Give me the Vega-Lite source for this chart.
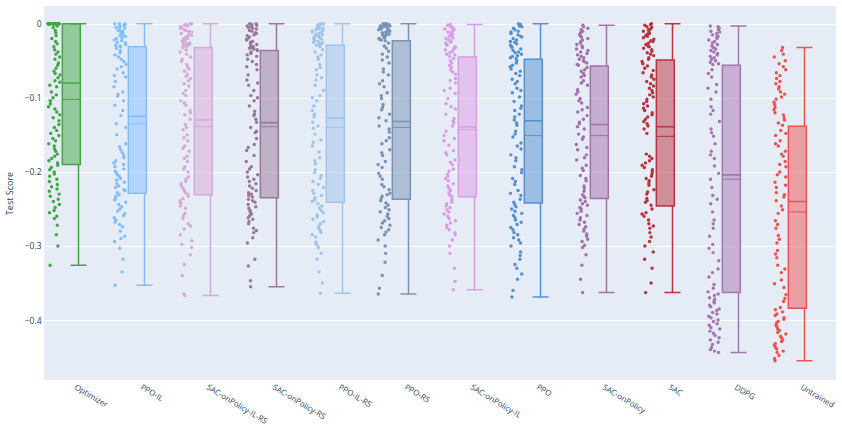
{
"$schema":"https://vega.github.io/schema/vega-lite/v6.json",
"width":792,"height":374,
"autosize":{"type":"none"},
"padding":{"left":44,"top":6,"right":6,"bottom":47},
"background":"white",
"config":{"view":{"fill":"#e5ecf6","stroke":null},"font":"Open Sans",
"axisY":{"grid":true,"gridColor":"white","gridWidth":1,"domain":false,"ticks":false,"labelColor":"#2a3f5f","labelFontSize":8.5,"labelPadding":3,"titleColor":"#2a3f5f","titleFontSize":9,"titleFontWeight":"normal","titlePadding":10},
"axisX":{"grid":false,"domain":false,"ticks":false,"labelColor":"#2a3f5f","labelFontSize":8,"labelAngle":31,"labelAlign":"left","labelBaseline":"top","labelPadding":3,"labelOverlap":false,"labelBound":false}},
"datasets":{
"stats":[
{"m":"Optimizer","hi":0,"q3":0,"med":-0.080,"mean":-0.102,"q1":-0.190,"lo":-0.326},
{"m":"PPO-IL","hi":0,"q3":-0.031,"med":-0.125,"mean":-0.135,"q1":-0.229,"lo":-0.353},
{"m":"SAC-onPolicy-IL-RS","hi":0,"q3":-0.032,"med":-0.130,"mean":-0.139,"q1":-0.231,"lo":-0.367},
{"m":"SAC-onPolicy-RS","hi":0,"q3":-0.036,"med":-0.1335,"mean":-0.139,"q1":-0.235,"lo":-0.355},
{"m":"PPO-IL-RS","hi":0,"q3":-0.029,"med":-0.127,"mean":-0.140,"q1":-0.241,"lo":-0.364},
{"m":"PPO-RS","hi":0,"q3":-0.023,"med":-0.132,"mean":-0.140,"q1":-0.237,"lo":-0.365},
{"m":"SAC-onPolicy-IL","hi":-0.001,"q3":-0.045,"med":-0.139,"mean":-0.143,"q1":-0.2335,"lo":-0.359},
{"m":"PPO","hi":0,"q3":-0.048,"med":-0.131,"mean":-0.151,"q1":-0.242,"lo":-0.369},
{"m":"SAC-onPolicy","hi":-0.002,"q3":-0.057,"med":-0.136,"mean":-0.151,"q1":-0.236,"lo":-0.363},
{"m":"SAC","hi":0,"q3":-0.049,"med":-0.139,"mean":-0.152,"q1":-0.246,"lo":-0.363},
{"m":"DDPG","hi":-0.003,"q3":-0.056,"med":-0.204,"mean":-0.210,"q1":-0.363,"lo":-0.444},
{"m":"Untrained","hi":-0.032,"q3":-0.1385,"med":-0.240,"mean":-0.254,"q1":-0.384,"lo":-0.455}
],
"pts":[
{"m":"Optimizer","s":0},{"m":"Optimizer","s":0},{"m":"Optimizer","s":0},{"m":"Optimizer","s":0},{"m":"Optimizer","s":0},{"m":"Optimizer","s":0},{"m":"Optimizer","s":0},{"m":"Optimizer","s":0},{"m":"Optimizer","s":0},{"m":"Optimizer","s":0},{"m":"Optimizer","s":0},{"m":"Optimizer","s":0},{"m":"Optimizer","s":0},{"m":"Optimizer","s":0},{"m":"Optimizer","s":0},{"m":"Optimizer","s":0},
{"m":"Optimizer","s":-0.005},{"m":"Optimizer","s":-0.012},{"m":"Optimizer","s":-0.02},{"m":"Optimizer","s":-0.027},{"m":"Optimizer","s":-0.035},{"m":"Optimizer","s":-0.041},{"m":"Optimizer","s":-0.048},{"m":"Optimizer","s":-0.053},{"m":"Optimizer","s":-0.06},{"m":"Optimizer","s":-0.064},{"m":"Optimizer","s":-0.069},{"m":"Optimizer","s":-0.073},{"m":"Optimizer","s":-0.077},{"m":"Optimizer","s":-0.079},
{"m":"Optimizer","s":-0.085},{"m":"Optimizer","s":-0.092},{"m":"Optimizer","s":-0.1},{"m":"Optimizer","s":-0.108},{"m":"Optimizer","s":-0.115},{"m":"Optimizer","s":-0.123},{"m":"Optimizer","s":-0.131},{"m":"Optimizer","s":-0.14},{"m":"Optimizer","s":-0.148},{"m":"Optimizer","s":-0.155},{"m":"Optimizer","s":-0.162},{"m":"Optimizer","s":-0.169},{"m":"Optimizer","s":-0.176},{"m":"Optimizer","s":-0.182},{"m":"Optimizer","s":-0.188},
{"m":"Optimizer","s":-0.194},{"m":"Optimizer","s":-0.2},{"m":"Optimizer","s":-0.206},{"m":"Optimizer","s":-0.213},{"m":"Optimizer","s":-0.22},{"m":"Optimizer","s":-0.226},{"m":"Optimizer","s":-0.233},{"m":"Optimizer","s":-0.24},{"m":"Optimizer","s":-0.248},{"m":"Optimizer","s":-0.255},{"m":"Optimizer","s":-0.263},{"m":"Optimizer","s":-0.272},{"m":"Optimizer","s":-0.285},{"m":"Optimizer","s":-0.3},{"m":"Optimizer","s":-0.326},
{"m":"Optimizer","s":0},{"m":"Optimizer","s":0},{"m":"Optimizer","s":0},{"m":"Optimizer","s":0},{"m":"Optimizer","s":0},{"m":"Optimizer","s":0},{"m":"Optimizer","s":-0.003},{"m":"Optimizer","s":-0.009},{"m":"Optimizer","s":-0.016},{"m":"Optimizer","s":-0.024},{"m":"Optimizer","s":-0.031},{"m":"Optimizer","s":-0.038},{"m":"Optimizer","s":-0.045},{"m":"Optimizer","s":-0.056},{"m":"Optimizer","s":-0.067},{"m":"Optimizer","s":-0.083},{"m":"Optimizer","s":-0.096},{"m":"Optimizer","s":-0.104},{"m":"Optimizer","s":-0.112},{"m":"Optimizer","s":-0.119},{"m":"Optimizer","s":-0.127},{"m":"Optimizer","s":-0.136},{"m":"Optimizer","s":-0.144},{"m":"Optimizer","s":-0.151},{"m":"Optimizer","s":-0.158},{"m":"Optimizer","s":-0.165},{"m":"Optimizer","s":-0.172},{"m":"Optimizer","s":-0.179},{"m":"Optimizer","s":-0.185},{"m":"Optimizer","s":-0.191},{"m":"Optimizer","s":-0.197},{"m":"Optimizer","s":-0.203},{"m":"Optimizer","s":-0.21},{"m":"Optimizer","s":-0.217},{"m":"Optimizer","s":-0.223},{"m":"Optimizer","s":-0.23},{"m":"Optimizer","s":-0.237},{"m":"Optimizer","s":-0.244},{"m":"Optimizer","s":-0.252},{"m":"Optimizer","s":-0.26},
{"m":"PPO-IL","s":0},{"m":"PPO-IL","s":0},{"m":"PPO-IL","s":-0.002},{"m":"PPO-IL","s":-0.004},{"m":"PPO-IL","s":-0.006},{"m":"PPO-IL","s":-0.009},{"m":"PPO-IL","s":-0.011},{"m":"PPO-IL","s":-0.014},{"m":"PPO-IL","s":-0.017},{"m":"PPO-IL","s":-0.02},{"m":"PPO-IL","s":-0.023},{"m":"PPO-IL","s":-0.026},{"m":"PPO-IL","s":-0.028},{"m":"PPO-IL","s":-0.03},{"m":"PPO-IL","s":-0.031},
{"m":"PPO-IL","s":-0.036},{"m":"PPO-IL","s":-0.042},{"m":"PPO-IL","s":-0.048},{"m":"PPO-IL","s":-0.055},{"m":"PPO-IL","s":-0.061},{"m":"PPO-IL","s":-0.066},{"m":"PPO-IL","s":-0.072},{"m":"PPO-IL","s":-0.078},{"m":"PPO-IL","s":-0.085},{"m":"PPO-IL","s":-0.092},{"m":"PPO-IL","s":-0.098},{"m":"PPO-IL","s":-0.104},{"m":"PPO-IL","s":-0.11},{"m":"PPO-IL","s":-0.117},{"m":"PPO-IL","s":-0.124},
{"m":"PPO-IL","s":-0.135},{"m":"PPO-IL","s":-0.15},{"m":"PPO-IL","s":-0.162},{"m":"PPO-IL","s":-0.17},{"m":"PPO-IL","s":-0.178},{"m":"PPO-IL","s":-0.185},{"m":"PPO-IL","s":-0.19},{"m":"PPO-IL","s":-0.196},{"m":"PPO-IL","s":-0.201},{"m":"PPO-IL","s":-0.206},{"m":"PPO-IL","s":-0.211},{"m":"PPO-IL","s":-0.216},{"m":"PPO-IL","s":-0.221},{"m":"PPO-IL","s":-0.225},{"m":"PPO-IL","s":-0.228},
{"m":"PPO-IL","s":-0.233},{"m":"PPO-IL","s":-0.238},{"m":"PPO-IL","s":-0.244},{"m":"PPO-IL","s":-0.25},{"m":"PPO-IL","s":-0.256},{"m":"PPO-IL","s":-0.262},{"m":"PPO-IL","s":-0.268},{"m":"PPO-IL","s":-0.274},{"m":"PPO-IL","s":-0.28},{"m":"PPO-IL","s":-0.287},{"m":"PPO-IL","s":-0.294},{"m":"PPO-IL","s":-0.303},{"m":"PPO-IL","s":-0.318},{"m":"PPO-IL","s":-0.335},{"m":"PPO-IL","s":-0.353},
{"m":"PPO-IL","s":0},{"m":"PPO-IL","s":-0.001},{"m":"PPO-IL","s":-0.003},{"m":"PPO-IL","s":-0.005},{"m":"PPO-IL","s":-0.008},{"m":"PPO-IL","s":-0.01},{"m":"PPO-IL","s":-0.013},{"m":"PPO-IL","s":-0.016},{"m":"PPO-IL","s":-0.019},{"m":"PPO-IL","s":-0.022},{"m":"PPO-IL","s":-0.025},{"m":"PPO-IL","s":-0.029},{"m":"PPO-IL","s":-0.033},{"m":"PPO-IL","s":-0.039},{"m":"PPO-IL","s":-0.045},{"m":"PPO-IL","s":-0.051},{"m":"PPO-IL","s":-0.058},{"m":"PPO-IL","s":-0.07},{"m":"PPO-IL","s":-0.095},{"m":"PPO-IL","s":-0.14},{"m":"PPO-IL","s":-0.166},{"m":"PPO-IL","s":-0.174},{"m":"PPO-IL","s":-0.181},{"m":"PPO-IL","s":-0.188},{"m":"PPO-IL","s":-0.193},{"m":"PPO-IL","s":-0.199},{"m":"PPO-IL","s":-0.204},{"m":"PPO-IL","s":-0.209},{"m":"PPO-IL","s":-0.214},{"m":"PPO-IL","s":-0.219},{"m":"PPO-IL","s":-0.224},{"m":"PPO-IL","s":-0.231},{"m":"PPO-IL","s":-0.236},{"m":"PPO-IL","s":-0.241},{"m":"PPO-IL","s":-0.247},{"m":"PPO-IL","s":-0.253},{"m":"PPO-IL","s":-0.259},{"m":"PPO-IL","s":-0.265},{"m":"PPO-IL","s":-0.271},{"m":"PPO-IL","s":-0.29},
{"m":"SAC-onPolicy-IL-RS","s":0},{"m":"SAC-onPolicy-IL-RS","s":-0.001},{"m":"SAC-onPolicy-IL-RS","s":-0.003},{"m":"SAC-onPolicy-IL-RS","s":-0.005},{"m":"SAC-onPolicy-IL-RS","s":-0.008},{"m":"SAC-onPolicy-IL-RS","s":-0.01},{"m":"SAC-onPolicy-IL-RS","s":-0.013},{"m":"SAC-onPolicy-IL-RS","s":-0.016},{"m":"SAC-onPolicy-IL-RS","s":-0.019},{"m":"SAC-onPolicy-IL-RS","s":-0.021},{"m":"SAC-onPolicy-IL-RS","s":-0.024},{"m":"SAC-onPolicy-IL-RS","s":-0.026},{"m":"SAC-onPolicy-IL-RS","s":-0.028},{"m":"SAC-onPolicy-IL-RS","s":-0.03},{"m":"SAC-onPolicy-IL-RS","s":-0.032},
{"m":"SAC-onPolicy-IL-RS","s":-0.038},{"m":"SAC-onPolicy-IL-RS","s":-0.045},{"m":"SAC-onPolicy-IL-RS","s":-0.051},{"m":"SAC-onPolicy-IL-RS","s":-0.058},{"m":"SAC-onPolicy-IL-RS","s":-0.064},{"m":"SAC-onPolicy-IL-RS","s":-0.071},{"m":"SAC-onPolicy-IL-RS","s":-0.077},{"m":"SAC-onPolicy-IL-RS","s":-0.084},{"m":"SAC-onPolicy-IL-RS","s":-0.09},{"m":"SAC-onPolicy-IL-RS","s":-0.097},{"m":"SAC-onPolicy-IL-RS","s":-0.104},{"m":"SAC-onPolicy-IL-RS","s":-0.11},{"m":"SAC-onPolicy-IL-RS","s":-0.117},{"m":"SAC-onPolicy-IL-RS","s":-0.123},{"m":"SAC-onPolicy-IL-RS","s":-0.129},
{"m":"SAC-onPolicy-IL-RS","s":-0.136},{"m":"SAC-onPolicy-IL-RS","s":-0.143},{"m":"SAC-onPolicy-IL-RS","s":-0.15},{"m":"SAC-onPolicy-IL-RS","s":-0.158},{"m":"SAC-onPolicy-IL-RS","s":-0.165},{"m":"SAC-onPolicy-IL-RS","s":-0.172},{"m":"SAC-onPolicy-IL-RS","s":-0.179},{"m":"SAC-onPolicy-IL-RS","s":-0.186},{"m":"SAC-onPolicy-IL-RS","s":-0.193},{"m":"SAC-onPolicy-IL-RS","s":-0.2},{"m":"SAC-onPolicy-IL-RS","s":-0.207},{"m":"SAC-onPolicy-IL-RS","s":-0.213},{"m":"SAC-onPolicy-IL-RS","s":-0.219},{"m":"SAC-onPolicy-IL-RS","s":-0.225},{"m":"SAC-onPolicy-IL-RS","s":-0.23},
{"m":"SAC-onPolicy-IL-RS","s":-0.236},{"m":"SAC-onPolicy-IL-RS","s":-0.242},{"m":"SAC-onPolicy-IL-RS","s":-0.249},{"m":"SAC-onPolicy-IL-RS","s":-0.256},{"m":"SAC-onPolicy-IL-RS","s":-0.263},{"m":"SAC-onPolicy-IL-RS","s":-0.27},{"m":"SAC-onPolicy-IL-RS","s":-0.277},{"m":"SAC-onPolicy-IL-RS","s":-0.285},{"m":"SAC-onPolicy-IL-RS","s":-0.293},{"m":"SAC-onPolicy-IL-RS","s":-0.302},{"m":"SAC-onPolicy-IL-RS","s":-0.312},{"m":"SAC-onPolicy-IL-RS","s":-0.325},{"m":"SAC-onPolicy-IL-RS","s":-0.34},{"m":"SAC-onPolicy-IL-RS","s":-0.365},{"m":"SAC-onPolicy-IL-RS","s":-0.367},
{"m":"SAC-onPolicy-IL-RS","s":0},{"m":"SAC-onPolicy-IL-RS","s":-0.002},{"m":"SAC-onPolicy-IL-RS","s":-0.004},{"m":"SAC-onPolicy-IL-RS","s":-0.006},{"m":"SAC-onPolicy-IL-RS","s":-0.009},{"m":"SAC-onPolicy-IL-RS","s":-0.011},{"m":"SAC-onPolicy-IL-RS","s":-0.014},{"m":"SAC-onPolicy-IL-RS","s":-0.017},{"m":"SAC-onPolicy-IL-RS","s":-0.02},{"m":"SAC-onPolicy-IL-RS","s":-0.023},{"m":"SAC-onPolicy-IL-RS","s":-0.025},{"m":"SAC-onPolicy-IL-RS","s":-0.027},{"m":"SAC-onPolicy-IL-RS","s":-0.029},{"m":"SAC-onPolicy-IL-RS","s":-0.031},{"m":"SAC-onPolicy-IL-RS","s":-0.035},{"m":"SAC-onPolicy-IL-RS","s":-0.041},{"m":"SAC-onPolicy-IL-RS","s":-0.048},{"m":"SAC-onPolicy-IL-RS","s":-0.055},{"m":"SAC-onPolicy-IL-RS","s":-0.061},{"m":"SAC-onPolicy-IL-RS","s":-0.068},{"m":"SAC-onPolicy-IL-RS","s":-0.074},{"m":"SAC-onPolicy-IL-RS","s":-0.081},{"m":"SAC-onPolicy-IL-RS","s":-0.094},{"m":"SAC-onPolicy-IL-RS","s":-0.107},{"m":"SAC-onPolicy-IL-RS","s":-0.12},{"m":"SAC-onPolicy-IL-RS","s":-0.14},{"m":"SAC-onPolicy-IL-RS","s":-0.154},{"m":"SAC-onPolicy-IL-RS","s":-0.168},{"m":"SAC-onPolicy-IL-RS","s":-0.182},{"m":"SAC-onPolicy-IL-RS","s":-0.196},{"m":"SAC-onPolicy-IL-RS","s":-0.21},{"m":"SAC-onPolicy-IL-RS","s":-0.216},{"m":"SAC-onPolicy-IL-RS","s":-0.222},{"m":"SAC-onPolicy-IL-RS","s":-0.228},{"m":"SAC-onPolicy-IL-RS","s":-0.233},{"m":"SAC-onPolicy-IL-RS","s":-0.239},{"m":"SAC-onPolicy-IL-RS","s":-0.246},{"m":"SAC-onPolicy-IL-RS","s":-0.259},{"m":"SAC-onPolicy-IL-RS","s":-0.273},{"m":"SAC-onPolicy-IL-RS","s":-0.298},
{"m":"SAC-onPolicy-RS","s":0},{"m":"SAC-onPolicy-RS","s":-0.002},{"m":"SAC-onPolicy-RS","s":-0.004},{"m":"SAC-onPolicy-RS","s":-0.006},{"m":"SAC-onPolicy-RS","s":-0.009},{"m":"SAC-onPolicy-RS","s":-0.012},{"m":"SAC-onPolicy-RS","s":-0.015},{"m":"SAC-onPolicy-RS","s":-0.018},{"m":"SAC-onPolicy-RS","s":-0.021},{"m":"SAC-onPolicy-RS","s":-0.024},{"m":"SAC-onPolicy-RS","s":-0.027},{"m":"SAC-onPolicy-RS","s":-0.03},{"m":"SAC-onPolicy-RS","s":-0.032},{"m":"SAC-onPolicy-RS","s":-0.034},{"m":"SAC-onPolicy-RS","s":-0.036},
{"m":"SAC-onPolicy-RS","s":-0.042},{"m":"SAC-onPolicy-RS","s":-0.048},{"m":"SAC-onPolicy-RS","s":-0.055},{"m":"SAC-onPolicy-RS","s":-0.062},{"m":"SAC-onPolicy-RS","s":-0.069},{"m":"SAC-onPolicy-RS","s":-0.076},{"m":"SAC-onPolicy-RS","s":-0.083},{"m":"SAC-onPolicy-RS","s":-0.09},{"m":"SAC-onPolicy-RS","s":-0.097},{"m":"SAC-onPolicy-RS","s":-0.104},{"m":"SAC-onPolicy-RS","s":-0.111},{"m":"SAC-onPolicy-RS","s":-0.118},{"m":"SAC-onPolicy-RS","s":-0.124},{"m":"SAC-onPolicy-RS","s":-0.129},{"m":"SAC-onPolicy-RS","s":-0.133},
{"m":"SAC-onPolicy-RS","s":-0.14},{"m":"SAC-onPolicy-RS","s":-0.147},{"m":"SAC-onPolicy-RS","s":-0.155},{"m":"SAC-onPolicy-RS","s":-0.163},{"m":"SAC-onPolicy-RS","s":-0.171},{"m":"SAC-onPolicy-RS","s":-0.178},{"m":"SAC-onPolicy-RS","s":-0.186},{"m":"SAC-onPolicy-RS","s":-0.193},{"m":"SAC-onPolicy-RS","s":-0.2},{"m":"SAC-onPolicy-RS","s":-0.207},{"m":"SAC-onPolicy-RS","s":-0.213},{"m":"SAC-onPolicy-RS","s":-0.219},{"m":"SAC-onPolicy-RS","s":-0.225},{"m":"SAC-onPolicy-RS","s":-0.23},{"m":"SAC-onPolicy-RS","s":-0.234},
{"m":"SAC-onPolicy-RS","s":-0.239},{"m":"SAC-onPolicy-RS","s":-0.244},{"m":"SAC-onPolicy-RS","s":-0.249},{"m":"SAC-onPolicy-RS","s":-0.254},{"m":"SAC-onPolicy-RS","s":-0.259},{"m":"SAC-onPolicy-RS","s":-0.264},{"m":"SAC-onPolicy-RS","s":-0.27},{"m":"SAC-onPolicy-RS","s":-0.276},{"m":"SAC-onPolicy-RS","s":-0.282},{"m":"SAC-onPolicy-RS","s":-0.289},{"m":"SAC-onPolicy-RS","s":-0.296},{"m":"SAC-onPolicy-RS","s":-0.318},{"m":"SAC-onPolicy-RS","s":-0.327},{"m":"SAC-onPolicy-RS","s":-0.347},{"m":"SAC-onPolicy-RS","s":-0.355},
{"m":"SAC-onPolicy-RS","s":0},{"m":"SAC-onPolicy-RS","s":-0.001},{"m":"SAC-onPolicy-RS","s":-0.003},{"m":"SAC-onPolicy-RS","s":-0.005},{"m":"SAC-onPolicy-RS","s":-0.007},{"m":"SAC-onPolicy-RS","s":-0.01},{"m":"SAC-onPolicy-RS","s":-0.013},{"m":"SAC-onPolicy-RS","s":-0.016},{"m":"SAC-onPolicy-RS","s":-0.019},{"m":"SAC-onPolicy-RS","s":-0.022},{"m":"SAC-onPolicy-RS","s":-0.025},{"m":"SAC-onPolicy-RS","s":-0.028},{"m":"SAC-onPolicy-RS","s":-0.031},{"m":"SAC-onPolicy-RS","s":-0.033},{"m":"SAC-onPolicy-RS","s":-0.035},{"m":"SAC-onPolicy-RS","s":-0.038},{"m":"SAC-onPolicy-RS","s":-0.04},{"m":"SAC-onPolicy-RS","s":-0.044},{"m":"SAC-onPolicy-RS","s":-0.051},{"m":"SAC-onPolicy-RS","s":-0.058},{"m":"SAC-onPolicy-RS","s":-0.08},{"m":"SAC-onPolicy-RS","s":-0.1},{"m":"SAC-onPolicy-RS","s":-0.122},{"m":"SAC-onPolicy-RS","s":-0.145},{"m":"SAC-onPolicy-RS","s":-0.167},{"m":"SAC-onPolicy-RS","s":-0.196},{"m":"SAC-onPolicy-RS","s":-0.204},{"m":"SAC-onPolicy-RS","s":-0.21},{"m":"SAC-onPolicy-RS","s":-0.216},{"m":"SAC-onPolicy-RS","s":-0.222},{"m":"SAC-onPolicy-RS","s":-0.228},{"m":"SAC-onPolicy-RS","s":-0.232},{"m":"SAC-onPolicy-RS","s":-0.237},{"m":"SAC-onPolicy-RS","s":-0.241},{"m":"SAC-onPolicy-RS","s":-0.247},{"m":"SAC-onPolicy-RS","s":-0.252},{"m":"SAC-onPolicy-RS","s":-0.257},{"m":"SAC-onPolicy-RS","s":-0.262},{"m":"SAC-onPolicy-RS","s":-0.267},{"m":"SAC-onPolicy-RS","s":-0.279},
{"m":"PPO-IL-RS","s":0},{"m":"PPO-IL-RS","s":-0.001},{"m":"PPO-IL-RS","s":-0.003},{"m":"PPO-IL-RS","s":-0.005},{"m":"PPO-IL-RS","s":-0.007},{"m":"PPO-IL-RS","s":-0.01},{"m":"PPO-IL-RS","s":-0.012},{"m":"PPO-IL-RS","s":-0.015},{"m":"PPO-IL-RS","s":-0.017},{"m":"PPO-IL-RS","s":-0.019},{"m":"PPO-IL-RS","s":-0.021},{"m":"PPO-IL-RS","s":-0.023},{"m":"PPO-IL-RS","s":-0.025},{"m":"PPO-IL-RS","s":-0.027},{"m":"PPO-IL-RS","s":-0.029},
{"m":"PPO-IL-RS","s":-0.035},{"m":"PPO-IL-RS","s":-0.042},{"m":"PPO-IL-RS","s":-0.048},{"m":"PPO-IL-RS","s":-0.055},{"m":"PPO-IL-RS","s":-0.062},{"m":"PPO-IL-RS","s":-0.069},{"m":"PPO-IL-RS","s":-0.076},{"m":"PPO-IL-RS","s":-0.083},{"m":"PPO-IL-RS","s":-0.09},{"m":"PPO-IL-RS","s":-0.097},{"m":"PPO-IL-RS","s":-0.104},{"m":"PPO-IL-RS","s":-0.111},{"m":"PPO-IL-RS","s":-0.117},{"m":"PPO-IL-RS","s":-0.122},{"m":"PPO-IL-RS","s":-0.126},
{"m":"PPO-IL-RS","s":-0.133},{"m":"PPO-IL-RS","s":-0.141},{"m":"PPO-IL-RS","s":-0.149},{"m":"PPO-IL-RS","s":-0.157},{"m":"PPO-IL-RS","s":-0.165},{"m":"PPO-IL-RS","s":-0.173},{"m":"PPO-IL-RS","s":-0.181},{"m":"PPO-IL-RS","s":-0.189},{"m":"PPO-IL-RS","s":-0.197},{"m":"PPO-IL-RS","s":-0.205},{"m":"PPO-IL-RS","s":-0.213},{"m":"PPO-IL-RS","s":-0.221},{"m":"PPO-IL-RS","s":-0.229},{"m":"PPO-IL-RS","s":-0.235},{"m":"PPO-IL-RS","s":-0.24},
{"m":"PPO-IL-RS","s":-0.246},{"m":"PPO-IL-RS","s":-0.252},{"m":"PPO-IL-RS","s":-0.258},{"m":"PPO-IL-RS","s":-0.264},{"m":"PPO-IL-RS","s":-0.27},{"m":"PPO-IL-RS","s":-0.276},{"m":"PPO-IL-RS","s":-0.282},{"m":"PPO-IL-RS","s":-0.288},{"m":"PPO-IL-RS","s":-0.295},{"m":"PPO-IL-RS","s":-0.302},{"m":"PPO-IL-RS","s":-0.31},{"m":"PPO-IL-RS","s":-0.318},{"m":"PPO-IL-RS","s":-0.335},{"m":"PPO-IL-RS","s":-0.35},{"m":"PPO-IL-RS","s":-0.364},
{"m":"PPO-IL-RS","s":0},{"m":"PPO-IL-RS","s":-0.002},{"m":"PPO-IL-RS","s":-0.004},{"m":"PPO-IL-RS","s":-0.006},{"m":"PPO-IL-RS","s":-0.008},{"m":"PPO-IL-RS","s":-0.009},{"m":"PPO-IL-RS","s":-0.011},{"m":"PPO-IL-RS","s":-0.013},{"m":"PPO-IL-RS","s":-0.014},{"m":"PPO-IL-RS","s":-0.016},{"m":"PPO-IL-RS","s":-0.018},{"m":"PPO-IL-RS","s":-0.02},{"m":"PPO-IL-RS","s":-0.022},{"m":"PPO-IL-RS","s":-0.024},{"m":"PPO-IL-RS","s":-0.026},{"m":"PPO-IL-RS","s":-0.028},{"m":"PPO-IL-RS","s":-0.031},{"m":"PPO-IL-RS","s":-0.038},{"m":"PPO-IL-RS","s":-0.045},{"m":"PPO-IL-RS","s":-0.059},{"m":"PPO-IL-RS","s":-0.073},{"m":"PPO-IL-RS","s":-0.1},{"m":"PPO-IL-RS","s":-0.138},{"m":"PPO-IL-RS","s":-0.16},{"m":"PPO-IL-RS","s":-0.185},{"m":"PPO-IL-RS","s":-0.201},{"m":"PPO-IL-RS","s":-0.209},{"m":"PPO-IL-RS","s":-0.217},{"m":"PPO-IL-RS","s":-0.225},{"m":"PPO-IL-RS","s":-0.232},{"m":"PPO-IL-RS","s":-0.238},{"m":"PPO-IL-RS","s":-0.243},{"m":"PPO-IL-RS","s":-0.249},{"m":"PPO-IL-RS","s":-0.255},{"m":"PPO-IL-RS","s":-0.261},{"m":"PPO-IL-RS","s":-0.267},{"m":"PPO-IL-RS","s":-0.273},{"m":"PPO-IL-RS","s":-0.279},{"m":"PPO-IL-RS","s":-0.285},{"m":"PPO-IL-RS","s":-0.298},
{"m":"PPO-RS","s":0},{"m":"PPO-RS","s":-0.001},{"m":"PPO-RS","s":-0.002},{"m":"PPO-RS","s":-0.004},{"m":"PPO-RS","s":-0.005},{"m":"PPO-RS","s":-0.007},{"m":"PPO-RS","s":-0.009},{"m":"PPO-RS","s":-0.01},{"m":"PPO-RS","s":-0.012},{"m":"PPO-RS","s":-0.014},{"m":"PPO-RS","s":-0.016},{"m":"PPO-RS","s":-0.018},{"m":"PPO-RS","s":-0.02},{"m":"PPO-RS","s":-0.021},{"m":"PPO-RS","s":-0.023},
{"m":"PPO-RS","s":-0.03},{"m":"PPO-RS","s":-0.037},{"m":"PPO-RS","s":-0.045},{"m":"PPO-RS","s":-0.053},{"m":"PPO-RS","s":-0.061},{"m":"PPO-RS","s":-0.069},{"m":"PPO-RS","s":-0.077},{"m":"PPO-RS","s":-0.085},{"m":"PPO-RS","s":-0.093},{"m":"PPO-RS","s":-0.101},{"m":"PPO-RS","s":-0.109},{"m":"PPO-RS","s":-0.116},{"m":"PPO-RS","s":-0.122},{"m":"PPO-RS","s":-0.127},{"m":"PPO-RS","s":-0.131},
{"m":"PPO-RS","s":-0.138},{"m":"PPO-RS","s":-0.146},{"m":"PPO-RS","s":-0.154},{"m":"PPO-RS","s":-0.162},{"m":"PPO-RS","s":-0.17},{"m":"PPO-RS","s":-0.178},{"m":"PPO-RS","s":-0.186},{"m":"PPO-RS","s":-0.194},{"m":"PPO-RS","s":-0.202},{"m":"PPO-RS","s":-0.21},{"m":"PPO-RS","s":-0.217},{"m":"PPO-RS","s":-0.224},{"m":"PPO-RS","s":-0.229},{"m":"PPO-RS","s":-0.233},{"m":"PPO-RS","s":-0.236},
{"m":"PPO-RS","s":-0.242},{"m":"PPO-RS","s":-0.248},{"m":"PPO-RS","s":-0.254},{"m":"PPO-RS","s":-0.26},{"m":"PPO-RS","s":-0.266},{"m":"PPO-RS","s":-0.272},{"m":"PPO-RS","s":-0.278},{"m":"PPO-RS","s":-0.285},{"m":"PPO-RS","s":-0.292},{"m":"PPO-RS","s":-0.3},{"m":"PPO-RS","s":-0.31},{"m":"PPO-RS","s":-0.322},{"m":"PPO-RS","s":-0.34},{"m":"PPO-RS","s":-0.357},{"m":"PPO-RS","s":-0.365},
{"m":"PPO-RS","s":0},{"m":"PPO-RS","s":0},{"m":"PPO-RS","s":-0.001},{"m":"PPO-RS","s":-0.002},{"m":"PPO-RS","s":-0.003},{"m":"PPO-RS","s":-0.003},{"m":"PPO-RS","s":-0.004},{"m":"PPO-RS","s":-0.006},{"m":"PPO-RS","s":-0.007},{"m":"PPO-RS","s":-0.008},{"m":"PPO-RS","s":-0.009},{"m":"PPO-RS","s":-0.011},{"m":"PPO-RS","s":-0.013},{"m":"PPO-RS","s":-0.015},{"m":"PPO-RS","s":-0.017},{"m":"PPO-RS","s":-0.019},{"m":"PPO-RS","s":-0.022},{"m":"PPO-RS","s":-0.026},{"m":"PPO-RS","s":-0.033},{"m":"PPO-RS","s":-0.041},{"m":"PPO-RS","s":-0.049},{"m":"PPO-RS","s":-0.065},{"m":"PPO-RS","s":-0.081},{"m":"PPO-RS","s":-0.097},{"m":"PPO-RS","s":-0.113},{"m":"PPO-RS","s":-0.142},{"m":"PPO-RS","s":-0.158},{"m":"PPO-RS","s":-0.174},{"m":"PPO-RS","s":-0.19},{"m":"PPO-RS","s":-0.206},{"m":"PPO-RS","s":-0.22},{"m":"PPO-RS","s":-0.231},{"m":"PPO-RS","s":-0.239},{"m":"PPO-RS","s":-0.245},{"m":"PPO-RS","s":-0.251},{"m":"PPO-RS","s":-0.257},{"m":"PPO-RS","s":-0.263},{"m":"PPO-RS","s":-0.269},{"m":"PPO-RS","s":-0.275},{"m":"PPO-RS","s":-0.281},
{"m":"SAC-onPolicy-IL","s":-0.001},{"m":"SAC-onPolicy-IL","s":-0.004},{"m":"SAC-onPolicy-IL","s":-0.007},{"m":"SAC-onPolicy-IL","s":-0.01},{"m":"SAC-onPolicy-IL","s":-0.013},{"m":"SAC-onPolicy-IL","s":-0.016},{"m":"SAC-onPolicy-IL","s":-0.019},{"m":"SAC-onPolicy-IL","s":-0.022},{"m":"SAC-onPolicy-IL","s":-0.025},{"m":"SAC-onPolicy-IL","s":-0.028},{"m":"SAC-onPolicy-IL","s":-0.031},{"m":"SAC-onPolicy-IL","s":-0.034},{"m":"SAC-onPolicy-IL","s":-0.037},{"m":"SAC-onPolicy-IL","s":-0.041},{"m":"SAC-onPolicy-IL","s":-0.044},
{"m":"SAC-onPolicy-IL","s":-0.05},{"m":"SAC-onPolicy-IL","s":-0.056},{"m":"SAC-onPolicy-IL","s":-0.062},{"m":"SAC-onPolicy-IL","s":-0.068},{"m":"SAC-onPolicy-IL","s":-0.074},{"m":"SAC-onPolicy-IL","s":-0.08},{"m":"SAC-onPolicy-IL","s":-0.087},{"m":"SAC-onPolicy-IL","s":-0.094},{"m":"SAC-onPolicy-IL","s":-0.101},{"m":"SAC-onPolicy-IL","s":-0.108},{"m":"SAC-onPolicy-IL","s":-0.115},{"m":"SAC-onPolicy-IL","s":-0.122},{"m":"SAC-onPolicy-IL","s":-0.128},{"m":"SAC-onPolicy-IL","s":-0.134},{"m":"SAC-onPolicy-IL","s":-0.138},
{"m":"SAC-onPolicy-IL","s":-0.145},{"m":"SAC-onPolicy-IL","s":-0.151},{"m":"SAC-onPolicy-IL","s":-0.158},{"m":"SAC-onPolicy-IL","s":-0.164},{"m":"SAC-onPolicy-IL","s":-0.171},{"m":"SAC-onPolicy-IL","s":-0.177},{"m":"SAC-onPolicy-IL","s":-0.184},{"m":"SAC-onPolicy-IL","s":-0.19},{"m":"SAC-onPolicy-IL","s":-0.196},{"m":"SAC-onPolicy-IL","s":-0.203},{"m":"SAC-onPolicy-IL","s":-0.209},{"m":"SAC-onPolicy-IL","s":-0.216},{"m":"SAC-onPolicy-IL","s":-0.222},{"m":"SAC-onPolicy-IL","s":-0.228},{"m":"SAC-onPolicy-IL","s":-0.233},
{"m":"SAC-onPolicy-IL","s":-0.238},{"m":"SAC-onPolicy-IL","s":-0.243},{"m":"SAC-onPolicy-IL","s":-0.248},{"m":"SAC-onPolicy-IL","s":-0.254},{"m":"SAC-onPolicy-IL","s":-0.26},{"m":"SAC-onPolicy-IL","s":-0.266},{"m":"SAC-onPolicy-IL","s":-0.272},{"m":"SAC-onPolicy-IL","s":-0.278},{"m":"SAC-onPolicy-IL","s":-0.285},{"m":"SAC-onPolicy-IL","s":-0.292},{"m":"SAC-onPolicy-IL","s":-0.3},{"m":"SAC-onPolicy-IL","s":-0.31},{"m":"SAC-onPolicy-IL","s":-0.33},{"m":"SAC-onPolicy-IL","s":-0.348},{"m":"SAC-onPolicy-IL","s":-0.359},
{"m":"SAC-onPolicy-IL","s":-0.002},{"m":"SAC-onPolicy-IL","s":-0.005},{"m":"SAC-onPolicy-IL","s":-0.008},{"m":"SAC-onPolicy-IL","s":-0.011},{"m":"SAC-onPolicy-IL","s":-0.014},{"m":"SAC-onPolicy-IL","s":-0.017},{"m":"SAC-onPolicy-IL","s":-0.02},{"m":"SAC-onPolicy-IL","s":-0.023},{"m":"SAC-onPolicy-IL","s":-0.026},{"m":"SAC-onPolicy-IL","s":-0.029},{"m":"SAC-onPolicy-IL","s":-0.032},{"m":"SAC-onPolicy-IL","s":-0.035},{"m":"SAC-onPolicy-IL","s":-0.039},{"m":"SAC-onPolicy-IL","s":-0.042},{"m":"SAC-onPolicy-IL","s":-0.047},{"m":"SAC-onPolicy-IL","s":-0.053},{"m":"SAC-onPolicy-IL","s":-0.059},{"m":"SAC-onPolicy-IL","s":-0.065},{"m":"SAC-onPolicy-IL","s":-0.077},{"m":"SAC-onPolicy-IL","s":-0.09},{"m":"SAC-onPolicy-IL","s":-0.112},{"m":"SAC-onPolicy-IL","s":-0.131},{"m":"SAC-onPolicy-IL","s":-0.155},{"m":"SAC-onPolicy-IL","s":-0.174},{"m":"SAC-onPolicy-IL","s":-0.187},{"m":"SAC-onPolicy-IL","s":-0.199},{"m":"SAC-onPolicy-IL","s":-0.206},{"m":"SAC-onPolicy-IL","s":-0.212},{"m":"SAC-onPolicy-IL","s":-0.219},{"m":"SAC-onPolicy-IL","s":-0.225},{"m":"SAC-onPolicy-IL","s":-0.231},{"m":"SAC-onPolicy-IL","s":-0.236},{"m":"SAC-onPolicy-IL","s":-0.241},{"m":"SAC-onPolicy-IL","s":-0.246},{"m":"SAC-onPolicy-IL","s":-0.251},{"m":"SAC-onPolicy-IL","s":-0.257},{"m":"SAC-onPolicy-IL","s":-0.263},{"m":"SAC-onPolicy-IL","s":-0.269},{"m":"SAC-onPolicy-IL","s":-0.275},{"m":"SAC-onPolicy-IL","s":-0.282},
{"m":"PPO","s":0},{"m":"PPO","s":-0.003},{"m":"PPO","s":-0.006},{"m":"PPO","s":-0.01},{"m":"PPO","s":-0.013},{"m":"PPO","s":-0.017},{"m":"PPO","s":-0.02},{"m":"PPO","s":-0.024},{"m":"PPO","s":-0.027},{"m":"PPO","s":-0.031},{"m":"PPO","s":-0.034},{"m":"PPO","s":-0.038},{"m":"PPO","s":-0.041},{"m":"PPO","s":-0.044},{"m":"PPO","s":-0.047},
{"m":"PPO","s":-0.053},{"m":"PPO","s":-0.058},{"m":"PPO","s":-0.064},{"m":"PPO","s":-0.07},{"m":"PPO","s":-0.075},{"m":"PPO","s":-0.081},{"m":"PPO","s":-0.087},{"m":"PPO","s":-0.093},{"m":"PPO","s":-0.099},{"m":"PPO","s":-0.105},{"m":"PPO","s":-0.111},{"m":"PPO","s":-0.117},{"m":"PPO","s":-0.122},{"m":"PPO","s":-0.126},{"m":"PPO","s":-0.13},
{"m":"PPO","s":-0.137},{"m":"PPO","s":-0.145},{"m":"PPO","s":-0.153},{"m":"PPO","s":-0.161},{"m":"PPO","s":-0.169},{"m":"PPO","s":-0.177},{"m":"PPO","s":-0.185},{"m":"PPO","s":-0.193},{"m":"PPO","s":-0.201},{"m":"PPO","s":-0.209},{"m":"PPO","s":-0.217},{"m":"PPO","s":-0.225},{"m":"PPO","s":-0.232},{"m":"PPO","s":-0.237},{"m":"PPO","s":-0.241},
{"m":"PPO","s":-0.247},{"m":"PPO","s":-0.253},{"m":"PPO","s":-0.259},{"m":"PPO","s":-0.265},{"m":"PPO","s":-0.271},{"m":"PPO","s":-0.278},{"m":"PPO","s":-0.285},{"m":"PPO","s":-0.292},{"m":"PPO","s":-0.3},{"m":"PPO","s":-0.308},{"m":"PPO","s":-0.318},{"m":"PPO","s":-0.33},{"m":"PPO","s":-0.345},{"m":"PPO","s":-0.36},{"m":"PPO","s":-0.369},
{"m":"PPO","s":-0.001},{"m":"PPO","s":-0.004},{"m":"PPO","s":-0.008},{"m":"PPO","s":-0.011},{"m":"PPO","s":-0.015},{"m":"PPO","s":-0.018},{"m":"PPO","s":-0.022},{"m":"PPO","s":-0.025},{"m":"PPO","s":-0.029},{"m":"PPO","s":-0.032},{"m":"PPO","s":-0.036},{"m":"PPO","s":-0.039},{"m":"PPO","s":-0.043},{"m":"PPO","s":-0.046},{"m":"PPO","s":-0.05},{"m":"PPO","s":-0.056},{"m":"PPO","s":-0.061},{"m":"PPO","s":-0.067},{"m":"PPO","s":-0.078},{"m":"PPO","s":-0.09},{"m":"PPO","s":-0.114},{"m":"PPO","s":-0.134},{"m":"PPO","s":-0.149},{"m":"PPO","s":-0.165},{"m":"PPO","s":-0.181},{"m":"PPO","s":-0.197},{"m":"PPO","s":-0.213},{"m":"PPO","s":-0.229},{"m":"PPO","s":-0.244},{"m":"PPO","s":-0.25},{"m":"PPO","s":-0.256},{"m":"PPO","s":-0.262},{"m":"PPO","s":-0.268},{"m":"PPO","s":-0.275},{"m":"PPO","s":-0.282},{"m":"PPO","s":-0.289},{"m":"PPO","s":-0.296},{"m":"PPO","s":-0.313},{"m":"PPO","s":-0.325},{"m":"PPO","s":-0.338},
{"m":"SAC-onPolicy","s":-0.002},{"m":"SAC-onPolicy","s":-0.006},{"m":"SAC-onPolicy","s":-0.01},{"m":"SAC-onPolicy","s":-0.014},{"m":"SAC-onPolicy","s":-0.018},{"m":"SAC-onPolicy","s":-0.022},{"m":"SAC-onPolicy","s":-0.026},{"m":"SAC-onPolicy","s":-0.03},{"m":"SAC-onPolicy","s":-0.034},{"m":"SAC-onPolicy","s":-0.038},{"m":"SAC-onPolicy","s":-0.042},{"m":"SAC-onPolicy","s":-0.046},{"m":"SAC-onPolicy","s":-0.05},{"m":"SAC-onPolicy","s":-0.053},{"m":"SAC-onPolicy","s":-0.056},
{"m":"SAC-onPolicy","s":-0.062},{"m":"SAC-onPolicy","s":-0.067},{"m":"SAC-onPolicy","s":-0.072},{"m":"SAC-onPolicy","s":-0.077},{"m":"SAC-onPolicy","s":-0.083},{"m":"SAC-onPolicy","s":-0.089},{"m":"SAC-onPolicy","s":-0.095},{"m":"SAC-onPolicy","s":-0.101},{"m":"SAC-onPolicy","s":-0.107},{"m":"SAC-onPolicy","s":-0.113},{"m":"SAC-onPolicy","s":-0.119},{"m":"SAC-onPolicy","s":-0.124},{"m":"SAC-onPolicy","s":-0.129},{"m":"SAC-onPolicy","s":-0.133},{"m":"SAC-onPolicy","s":-0.135},
{"m":"SAC-onPolicy","s":-0.142},{"m":"SAC-onPolicy","s":-0.149},{"m":"SAC-onPolicy","s":-0.156},{"m":"SAC-onPolicy","s":-0.163},{"m":"SAC-onPolicy","s":-0.17},{"m":"SAC-onPolicy","s":-0.177},{"m":"SAC-onPolicy","s":-0.184},{"m":"SAC-onPolicy","s":-0.191},{"m":"SAC-onPolicy","s":-0.198},{"m":"SAC-onPolicy","s":-0.205},{"m":"SAC-onPolicy","s":-0.212},{"m":"SAC-onPolicy","s":-0.219},{"m":"SAC-onPolicy","s":-0.226},{"m":"SAC-onPolicy","s":-0.231},{"m":"SAC-onPolicy","s":-0.235},
{"m":"SAC-onPolicy","s":-0.24},{"m":"SAC-onPolicy","s":-0.245},{"m":"SAC-onPolicy","s":-0.25},{"m":"SAC-onPolicy","s":-0.256},{"m":"SAC-onPolicy","s":-0.262},{"m":"SAC-onPolicy","s":-0.268},{"m":"SAC-onPolicy","s":-0.274},{"m":"SAC-onPolicy","s":-0.28},{"m":"SAC-onPolicy","s":-0.287},{"m":"SAC-onPolicy","s":-0.294},{"m":"SAC-onPolicy","s":-0.302},{"m":"SAC-onPolicy","s":-0.312},{"m":"SAC-onPolicy","s":-0.326},{"m":"SAC-onPolicy","s":-0.345},{"m":"SAC-onPolicy","s":-0.363},
{"m":"SAC-onPolicy","s":-0.004},{"m":"SAC-onPolicy","s":-0.008},{"m":"SAC-onPolicy","s":-0.012},{"m":"SAC-onPolicy","s":-0.016},{"m":"SAC-onPolicy","s":-0.02},{"m":"SAC-onPolicy","s":-0.024},{"m":"SAC-onPolicy","s":-0.028},{"m":"SAC-onPolicy","s":-0.032},{"m":"SAC-onPolicy","s":-0.036},{"m":"SAC-onPolicy","s":-0.04},{"m":"SAC-onPolicy","s":-0.044},{"m":"SAC-onPolicy","s":-0.048},{"m":"SAC-onPolicy","s":-0.051},{"m":"SAC-onPolicy","s":-0.055},{"m":"SAC-onPolicy","s":-0.059},{"m":"SAC-onPolicy","s":-0.064},{"m":"SAC-onPolicy","s":-0.07},{"m":"SAC-onPolicy","s":-0.08},{"m":"SAC-onPolicy","s":-0.092},{"m":"SAC-onPolicy","s":-0.104},{"m":"SAC-onPolicy","s":-0.116},{"m":"SAC-onPolicy","s":-0.139},{"m":"SAC-onPolicy","s":-0.153},{"m":"SAC-onPolicy","s":-0.167},{"m":"SAC-onPolicy","s":-0.181},{"m":"SAC-onPolicy","s":-0.195},{"m":"SAC-onPolicy","s":-0.209},{"m":"SAC-onPolicy","s":-0.222},{"m":"SAC-onPolicy","s":-0.233},{"m":"SAC-onPolicy","s":-0.238},{"m":"SAC-onPolicy","s":-0.243},{"m":"SAC-onPolicy","s":-0.248},{"m":"SAC-onPolicy","s":-0.253},{"m":"SAC-onPolicy","s":-0.259},{"m":"SAC-onPolicy","s":-0.265},{"m":"SAC-onPolicy","s":-0.271},{"m":"SAC-onPolicy","s":-0.277},{"m":"SAC-onPolicy","s":-0.284},{"m":"SAC-onPolicy","s":-0.291},{"m":"SAC-onPolicy","s":-0.299},
{"m":"SAC","s":0},{"m":"SAC","s":-0.002},{"m":"SAC","s":-0.005},{"m":"SAC","s":-0.008},{"m":"SAC","s":-0.011},{"m":"SAC","s":-0.014},{"m":"SAC","s":-0.017},{"m":"SAC","s":-0.021},{"m":"SAC","s":-0.024},{"m":"SAC","s":-0.028},{"m":"SAC","s":-0.031},{"m":"SAC","s":-0.035},{"m":"SAC","s":-0.039},{"m":"SAC","s":-0.043},{"m":"SAC","s":-0.048},
{"m":"SAC","s":-0.054},{"m":"SAC","s":-0.06},{"m":"SAC","s":-0.066},{"m":"SAC","s":-0.072},{"m":"SAC","s":-0.078},{"m":"SAC","s":-0.084},{"m":"SAC","s":-0.09},{"m":"SAC","s":-0.096},{"m":"SAC","s":-0.102},{"m":"SAC","s":-0.108},{"m":"SAC","s":-0.114},{"m":"SAC","s":-0.12},{"m":"SAC","s":-0.126},{"m":"SAC","s":-0.132},{"m":"SAC","s":-0.138},
{"m":"SAC","s":-0.142},{"m":"SAC","s":-0.148},{"m":"SAC","s":-0.176},{"m":"SAC","s":-0.182},{"m":"SAC","s":-0.188},{"m":"SAC","s":-0.194},{"m":"SAC","s":-0.2},{"m":"SAC","s":-0.206},{"m":"SAC","s":-0.212},{"m":"SAC","s":-0.218},{"m":"SAC","s":-0.224},{"m":"SAC","s":-0.23},{"m":"SAC","s":-0.236},{"m":"SAC","s":-0.241},{"m":"SAC","s":-0.245},
{"m":"SAC","s":-0.25},{"m":"SAC","s":-0.255},{"m":"SAC","s":-0.26},{"m":"SAC","s":-0.265},{"m":"SAC","s":-0.27},{"m":"SAC","s":-0.276},{"m":"SAC","s":-0.282},{"m":"SAC","s":-0.288},{"m":"SAC","s":-0.294},{"m":"SAC","s":-0.3},{"m":"SAC","s":-0.308},{"m":"SAC","s":-0.318},{"m":"SAC","s":-0.33},{"m":"SAC","s":-0.35},{"m":"SAC","s":-0.363},
{"m":"SAC","s":-0.001},{"m":"SAC","s":-0.004},{"m":"SAC","s":-0.007},{"m":"SAC","s":-0.01},{"m":"SAC","s":-0.013},{"m":"SAC","s":-0.016},{"m":"SAC","s":-0.019},{"m":"SAC","s":-0.023},{"m":"SAC","s":-0.026},{"m":"SAC","s":-0.03},{"m":"SAC","s":-0.033},{"m":"SAC","s":-0.037},{"m":"SAC","s":-0.041},{"m":"SAC","s":-0.046},{"m":"SAC","s":-0.051},{"m":"SAC","s":-0.057},{"m":"SAC","s":-0.063},{"m":"SAC","s":-0.069},{"m":"SAC","s":-0.075},{"m":"SAC","s":-0.081},{"m":"SAC","s":-0.087},{"m":"SAC","s":-0.093},{"m":"SAC","s":-0.099},{"m":"SAC","s":-0.105},{"m":"SAC","s":-0.111},{"m":"SAC","s":-0.117},{"m":"SAC","s":-0.123},{"m":"SAC","s":-0.129},{"m":"SAC","s":-0.135},{"m":"SAC","s":-0.179},{"m":"SAC","s":-0.185},{"m":"SAC","s":-0.191},{"m":"SAC","s":-0.197},{"m":"SAC","s":-0.203},{"m":"SAC","s":-0.209},{"m":"SAC","s":-0.215},{"m":"SAC","s":-0.227},{"m":"SAC","s":-0.239},{"m":"SAC","s":-0.257},{"m":"SAC","s":-0.273},
{"m":"DDPG","s":-0.003},{"m":"DDPG","s":-0.006},{"m":"DDPG","s":-0.01},{"m":"DDPG","s":-0.013},{"m":"DDPG","s":-0.017},{"m":"DDPG","s":-0.02},{"m":"DDPG","s":-0.024},{"m":"DDPG","s":-0.028},{"m":"DDPG","s":-0.032},{"m":"DDPG","s":-0.036},{"m":"DDPG","s":-0.04},{"m":"DDPG","s":-0.044},{"m":"DDPG","s":-0.048},{"m":"DDPG","s":-0.052},{"m":"DDPG","s":-0.055},
{"m":"DDPG","s":-0.062},{"m":"DDPG","s":-0.072},{"m":"DDPG","s":-0.082},{"m":"DDPG","s":-0.092},{"m":"DDPG","s":-0.102},{"m":"DDPG","s":-0.112},{"m":"DDPG","s":-0.122},{"m":"DDPG","s":-0.132},{"m":"DDPG","s":-0.142},{"m":"DDPG","s":-0.152},{"m":"DDPG","s":-0.162},{"m":"DDPG","s":-0.172},{"m":"DDPG","s":-0.182},{"m":"DDPG","s":-0.192},{"m":"DDPG","s":-0.202},
{"m":"DDPG","s":-0.21},{"m":"DDPG","s":-0.221},{"m":"DDPG","s":-0.232},{"m":"DDPG","s":-0.243},{"m":"DDPG","s":-0.254},{"m":"DDPG","s":-0.265},{"m":"DDPG","s":-0.276},{"m":"DDPG","s":-0.287},{"m":"DDPG","s":-0.298},{"m":"DDPG","s":-0.309},{"m":"DDPG","s":-0.32},{"m":"DDPG","s":-0.331},{"m":"DDPG","s":-0.342},{"m":"DDPG","s":-0.352},{"m":"DDPG","s":-0.362},
{"m":"DDPG","s":-0.367},{"m":"DDPG","s":-0.372},{"m":"DDPG","s":-0.377},{"m":"DDPG","s":-0.382},{"m":"DDPG","s":-0.387},{"m":"DDPG","s":-0.392},{"m":"DDPG","s":-0.397},{"m":"DDPG","s":-0.402},{"m":"DDPG","s":-0.407},{"m":"DDPG","s":-0.412},{"m":"DDPG","s":-0.418},{"m":"DDPG","s":-0.424},{"m":"DDPG","s":-0.43},{"m":"DDPG","s":-0.437},{"m":"DDPG","s":-0.444},
{"m":"DDPG","s":-0.004},{"m":"DDPG","s":-0.008},{"m":"DDPG","s":-0.011},{"m":"DDPG","s":-0.015},{"m":"DDPG","s":-0.018},{"m":"DDPG","s":-0.022},{"m":"DDPG","s":-0.026},{"m":"DDPG","s":-0.03},{"m":"DDPG","s":-0.034},{"m":"DDPG","s":-0.038},{"m":"DDPG","s":-0.042},{"m":"DDPG","s":-0.046},{"m":"DDPG","s":-0.05},{"m":"DDPG","s":-0.054},{"m":"DDPG","s":-0.067},{"m":"DDPG","s":-0.087},{"m":"DDPG","s":-0.117},{"m":"DDPG","s":-0.147},{"m":"DDPG","s":-0.177},{"m":"DDPG","s":-0.237},{"m":"DDPG","s":-0.27},{"m":"DDPG","s":-0.303},{"m":"DDPG","s":-0.336},{"m":"DDPG","s":-0.357},{"m":"DDPG","s":-0.365},{"m":"DDPG","s":-0.37},{"m":"DDPG","s":-0.375},{"m":"DDPG","s":-0.38},{"m":"DDPG","s":-0.385},{"m":"DDPG","s":-0.39},{"m":"DDPG","s":-0.395},{"m":"DDPG","s":-0.4},{"m":"DDPG","s":-0.405},{"m":"DDPG","s":-0.41},{"m":"DDPG","s":-0.415},{"m":"DDPG","s":-0.421},{"m":"DDPG","s":-0.427},{"m":"DDPG","s":-0.433},{"m":"DDPG","s":-0.44},{"m":"DDPG","s":-0.442},
{"m":"Untrained","s":-0.032},{"m":"Untrained","s":-0.041},{"m":"Untrained","s":-0.05},{"m":"Untrained","s":-0.058},{"m":"Untrained","s":-0.066},{"m":"Untrained","s":-0.074},{"m":"Untrained","s":-0.081},{"m":"Untrained","s":-0.088},{"m":"Untrained","s":-0.095},{"m":"Untrained","s":-0.102},{"m":"Untrained","s":-0.109},{"m":"Untrained","s":-0.116},{"m":"Untrained","s":-0.123},{"m":"Untrained","s":-0.13},{"m":"Untrained","s":-0.137},
{"m":"Untrained","s":-0.144},{"m":"Untrained","s":-0.151},{"m":"Untrained","s":-0.158},{"m":"Untrained","s":-0.165},{"m":"Untrained","s":-0.172},{"m":"Untrained","s":-0.179},{"m":"Untrained","s":-0.186},{"m":"Untrained","s":-0.193},{"m":"Untrained","s":-0.2},{"m":"Untrained","s":-0.207},{"m":"Untrained","s":-0.214},{"m":"Untrained","s":-0.221},{"m":"Untrained","s":-0.228},{"m":"Untrained","s":-0.234},{"m":"Untrained","s":-0.239},
{"m":"Untrained","s":-0.246},{"m":"Untrained","s":-0.256},{"m":"Untrained","s":-0.266},{"m":"Untrained","s":-0.276},{"m":"Untrained","s":-0.286},{"m":"Untrained","s":-0.296},{"m":"Untrained","s":-0.306},{"m":"Untrained","s":-0.316},{"m":"Untrained","s":-0.326},{"m":"Untrained","s":-0.336},{"m":"Untrained","s":-0.346},{"m":"Untrained","s":-0.356},{"m":"Untrained","s":-0.366},{"m":"Untrained","s":-0.375},{"m":"Untrained","s":-0.383},
{"m":"Untrained","s":-0.389},{"m":"Untrained","s":-0.394},{"m":"Untrained","s":-0.399},{"m":"Untrained","s":-0.404},{"m":"Untrained","s":-0.409},{"m":"Untrained","s":-0.414},{"m":"Untrained","s":-0.419},{"m":"Untrained","s":-0.424},{"m":"Untrained","s":-0.429},{"m":"Untrained","s":-0.434},{"m":"Untrained","s":-0.439},{"m":"Untrained","s":-0.444},{"m":"Untrained","s":-0.448},{"m":"Untrained","s":-0.452},{"m":"Untrained","s":-0.455},
{"m":"Untrained","s":-0.036},{"m":"Untrained","s":-0.045},{"m":"Untrained","s":-0.054},{"m":"Untrained","s":-0.062},{"m":"Untrained","s":-0.07},{"m":"Untrained","s":-0.078},{"m":"Untrained","s":-0.085},{"m":"Untrained","s":-0.092},{"m":"Untrained","s":-0.099},{"m":"Untrained","s":-0.106},{"m":"Untrained","s":-0.113},{"m":"Untrained","s":-0.12},{"m":"Untrained","s":-0.127},{"m":"Untrained","s":-0.134},{"m":"Untrained","s":-0.148},{"m":"Untrained","s":-0.162},{"m":"Untrained","s":-0.176},{"m":"Untrained","s":-0.19},{"m":"Untrained","s":-0.204},{"m":"Untrained","s":-0.218},{"m":"Untrained","s":-0.231},{"m":"Untrained","s":-0.251},{"m":"Untrained","s":-0.271},{"m":"Untrained","s":-0.291},{"m":"Untrained","s":-0.311},{"m":"Untrained","s":-0.331},{"m":"Untrained","s":-0.351},{"m":"Untrained","s":-0.371},{"m":"Untrained","s":-0.386},{"m":"Untrained","s":-0.392},{"m":"Untrained","s":-0.397},{"m":"Untrained","s":-0.402},{"m":"Untrained","s":-0.407},{"m":"Untrained","s":-0.412},{"m":"Untrained","s":-0.417},{"m":"Untrained","s":-0.422},{"m":"Untrained","s":-0.427},{"m":"Untrained","s":-0.432},{"m":"Untrained","s":-0.437},{"m":"Untrained","s":-0.442}
]},
"encoding":{
"x":{"field":"m","type":"nominal","title":null,"sort":["Optimizer","PPO-IL","SAC-onPolicy-IL-RS","SAC-onPolicy-RS","PPO-IL-RS","PPO-RS","SAC-onPolicy-IL","PPO","SAC-onPolicy","SAC","DDPG","Untrained"],"scale":{"paddingInner":0,"paddingOuter":0}},
"color":{"field":"m","type":"nominal","legend":null,"scale":{"domain":["Optimizer","PPO-IL","SAC-onPolicy-IL-RS","SAC-onPolicy-RS","PPO-IL-RS","PPO-RS","SAC-onPolicy-IL","PPO","SAC-onPolicy","SAC","DDPG","Untrained"],"range":["#44a544","#80bfff","#d8a8d8","#9a7799","#a0c4ec","#7892b4","#de9ae6","#5390d0","#a56fac","#b8323f","#a774b0","#ef5350"]}}
},
"layer":[
{"data":{"name":"pts"},
 "transform":[{"window":[{"op":"row_number","as":"rn"}]},{"calculate":"abs(sin(datum.rn*12.9898)*43758.5453)%1","as":"j"}],
 "mark":{"type":"circle","size":12,"opacity":1},
 "encoding":{
  "y":{"field":"s","type":"quantitative","title":"Test Score","scale":{"domain":[-0.481,0.024],"nice":false,"zero":false},"axis":{"values":[-0.4,-0.3,-0.2,-0.1,0],"format":".1~f"}},
  "xOffset":{"field":"j","type":"quantitative","scale":{"domain":[0,1],"range":[4,16]}}
 }},
{"data":{"name":"stats"},"mark":{"type":"rule","strokeWidth":1.5,"xOffset":1.5},
 "encoding":{"y":{"field":"lo","type":"quantitative","title":"Test Score"},"y2":{"field":"q1"}}},
{"data":{"name":"stats"},"mark":{"type":"rule","strokeWidth":1.5,"xOffset":1.5},
 "encoding":{"y":{"field":"q3","type":"quantitative","title":"Test Score"},"y2":{"field":"hi"}}},
{"data":{"name":"stats"},"mark":{"type":"bar","width":16,"fillOpacity":0,"strokeWidth":1.5,"xOffset":1.5},
 "encoding":{"y":{"field":"lo","type":"quantitative","title":"Test Score"},"y2":{"field":"lo"},"stroke":{"field":"m","type":"nominal","legend":null,"scale":{"domain":["Optimizer","PPO-IL","SAC-onPolicy-IL-RS","SAC-onPolicy-RS","PPO-IL-RS","PPO-RS","SAC-onPolicy-IL","PPO","SAC-onPolicy","SAC","DDPG","Untrained"],"range":["#44a544","#80bfff","#d8a8d8","#9a7799","#a0c4ec","#7892b4","#de9ae6","#5390d0","#a56fac","#b8323f","#a774b0","#ef5350"]}}}},
{"data":{"name":"stats"},"mark":{"type":"bar","width":16,"fillOpacity":0,"strokeWidth":1.5,"xOffset":1.5},
 "encoding":{"y":{"field":"hi","type":"quantitative","title":"Test Score"},"y2":{"field":"hi"},"stroke":{"field":"m","type":"nominal","legend":null}}},
{"data":{"name":"stats"},"mark":{"type":"bar","width":{"band":0.49},"fillOpacity":0.5,"strokeWidth":1.5,"xOffset":1.5},
 "encoding":{"y":{"field":"q3","type":"quantitative","title":"Test Score"},"y2":{"field":"q1"},"stroke":{"field":"m","type":"nominal","legend":null}}},
{"data":{"name":"stats"},"mark":{"type":"bar","width":{"band":0.49},"fillOpacity":0,"strokeWidth":1.6,"xOffset":1.5},
 "encoding":{"y":{"field":"med","type":"quantitative","title":"Test Score"},"y2":{"field":"med"},"stroke":{"field":"m","type":"nominal","legend":null}}},
{"data":{"name":"stats"},"mark":{"type":"bar","width":{"band":0.49},"fillOpacity":0,"strokeWidth":1,"strokeDash":[3,2],"xOffset":1.5},
 "encoding":{"y":{"field":"mean","type":"quantitative","title":"Test Score"},"y2":{"field":"mean"},"stroke":{"field":"m","type":"nominal","legend":null}}}
]
}
